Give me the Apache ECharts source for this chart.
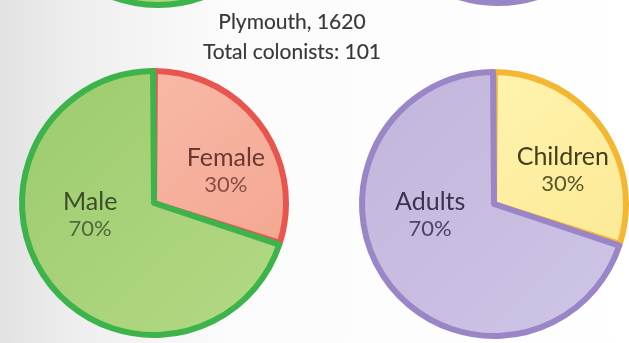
<!DOCTYPE html>
<html>
<head>
<meta charset="utf-8">
<script src="https://cdn.jsdelivr.net/npm/echarts@6/dist/echarts.min.js"></script>
<style>
  html, body { margin: 0; padding: 0; }
  #chart { width: 629px; height: 343px; }
</style>
</head>
<body>
<div id="chart"></div>
<script>
// Plymouth colony, 1620: two breakdowns of the 101 colonists
const titleLines = ['Plymouth, 1620', 'Total colonists: 101'];

const sexCategories = ['Female', 'Male'];
const sexValues = [30, 70];

const ageCategories = ['Children', 'Adults'];
const ageValues = [30, 70];

// colours per slice: fill gradient ends, rim, label name and label percent
const palette = {
  Female:   { fill: ['#f8b9a7', '#f3a792'], rim: '#e9544f', text: '#693832', sub: '#8c4c43' },
  Male:     { fill: ['#9dcb6d', '#b3d985'], rim: '#3db34b', text: '#3a4c29', sub: '#4e6838' },
  Children: { fill: ['#fff3ae', '#fbe995'], rim: '#f3b733', text: '#433d1c', sub: '#5a5428' },
  Adults:   { fill: ['#c2b5dc', '#cec5e6'], rim: '#9a85c7', text: '#39334f', sub: '#4a4466' }
};
// nudges of the inside labels away from the slice bisector
const labelNudge = {
  Female: [16, 8], Male: [-8, -29],
  Children: [13, 6], Adults: [-8, -30]
};

const chart = echarts.init(document.getElementById('chart'), null, { renderer: 'canvas' });

function sliceData(cats, vals) {
  return cats.map((c, i) => ({
    name: c,
    value: vals[i],
    itemStyle: {
      color: new echarts.graphic.LinearGradient(0, 0, 1, 1, [
        { offset: 0, color: palette[c].fill[0] },
        { offset: 1, color: palette[c].fill[1] }
      ]),
      borderColor: palette[c].rim
    },
    label: {
      offset: labelNudge[c],
      rich: {
        n: { fontFamily: 'Lato', fontSize: 25, color: palette[c].text, lineHeight: 28 },
        p: { fontFamily: 'Lato', fontSize: 22, color: palette[c].sub, lineHeight: 26 }
      }
    }
  }));
}

function pieSeries(center, data, showLabel) {
  return {
    type: 'pie',
    center: center,
    radius: [0, 132],
    startAngle: 90,
    clockwise: true,
    padAngle: 0.8,
    silent: true,
    animation: false,
    itemStyle: { borderWidth: 6 },
    label: {
      show: showLabel,
      position: 'inside',
      formatter: p => '{n|' + p.name + '}\n{p|' + p.value + '%}'
    },
    labelLine: { show: false },
    emphasis: { disabled: true },
    data: data
  };
}

const titleStyle = {
  fill: '#383838', font: '21px Lato', stroke: '#383838', lineWidth: 0.15,
  textAlign: 'center', textVerticalAlign: 'top'
};

const option = {
  backgroundColor: new echarts.graphic.LinearGradient(0, 0, 1, 0, [
    { offset: 0, color: '#e2e2e2' },
    { offset: 0.12, color: '#eeeeee' },
    { offset: 0.35, color: '#fbfbfb' },
    { offset: 1, color: '#ffffff' }
  ]),
  graphic: [
    { type: 'text', x: 292, y: 12, style: Object.assign({ text: titleLines[0] }, titleStyle) },
    { type: 'text', x: 292, y: 42, style: Object.assign({ text: titleLines[1] }, titleStyle) }
  ],
  series: [
    // bottoms of the charts above, cut by the top edge
    pieSeries([158, -127], sliceData(['Male'], [100]), false),
    pieSeries([498, -129], sliceData(['Adults'], [100]), false),
    pieSeries([154, 203], sliceData(sexCategories, sexValues), true),
    pieSeries([494, 204], sliceData(ageCategories, ageValues), true)
  ]
};

chart.setOption(option);
</script>
</body>
</html>
